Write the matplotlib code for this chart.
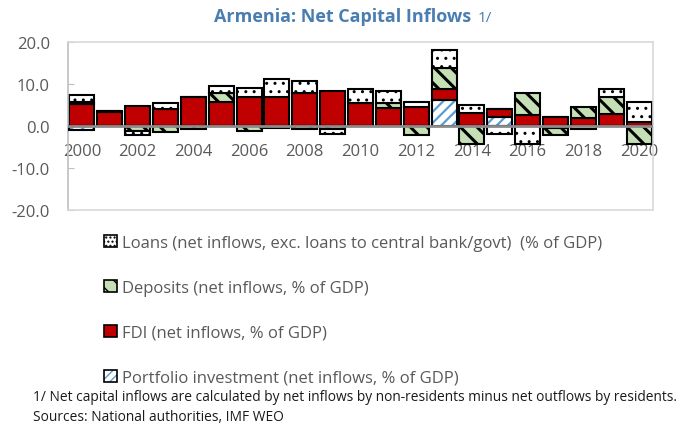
import matplotlib
matplotlib.use("Agg")
import matplotlib.pyplot as plt
from matplotlib.patches import Patch
from matplotlib.legend_handler import HandlerTuple
import numpy as np

years = list(range(2000, 2021))
xtick_labels = [str(y) for y in range(2000, 2021, 2)]

portfolio = [-1.0, 0, 0, 0, 0, 0, 0, 0, 0, 0, 0, 0, 0, 6.1, 0, 2.1, 0, -0.4, 0, 0, 0]
fdi = [5.3, 3.3, 4.8, 4.1, 6.9, 5.8, 7.0, 7.0, 7.8, 8.3, 5.5, 4.2, 4.5, 2.8, 3.2, 1.9, 2.7, 2.1, 1.8, 2.9, 1.0]
deposits = [0.5, 0.3, -1.2, -1.4, -0.6, 2.1, -1.3, -0.4, -0.8, -0.6, 0, 1.3, -2.2, 5.0, -4.2, 0, 5.1, -1.8, 2.7, 4.1, -4.4]
loans = [1.6, 0, -1.0, 1.4, 0, 1.6, 2.0, 4.1, 2.8, -1.3, 3.3, 2.8, 1.3, 4.1, 1.8, -2.0, -4.4, 0, -0.8, 1.8, 4.7]

labels = {
    "loans": "Loans (net inflows, exc. loans to central bank/govt)  (% of GDP)",
    "deposits": "Deposits (net inflows, % of GDP)",
    "fdi": "FDI (net inflows, % of GDP)",
    "portfolio": "Portfolio investment (net inflows, % of GDP)",
}

FONT = ["Open Sans", "DejaVu Sans"]
plt.rcParams["font.family"] = FONT
GREY = "#595959"
RED = "#C00000"
GREEN = "#C5E0B4"
BLUE = "#5B9BD5"

W, H = 677, 427
fig = plt.figure(figsize=(W / 100, H / 100), dpi=100)
ax = fig.add_axes([68 / W, 1 - 211 / H, (653 - 68) / W, (211 - 43) / H])

x = np.arange(len(years))
width = 0.9
pos_bottom = np.zeros(len(years))
neg_bottom = np.zeros(len(years))

styles = [
    ("portfolio", portfolio),
    ("fdi", fdi),
    ("deposits", deposits),
    ("loans", loans),
]

for name, vals in styles:
    v = np.array(vals, dtype=float)
    bottom = np.where(v >= 0, pos_bottom, neg_bottom)
    if name == "portfolio":
        with plt.rc_context({"hatch.linewidth": 1.6}):
            ax.bar(x, v, width, bottom=bottom, facecolor="white", edgecolor=BLUE,
                   hatch="///", linewidth=0, zorder=2)
        ax.bar(x, v, width, bottom=bottom, facecolor="none", edgecolor="black",
               linewidth=1.5, zorder=3)
    elif name == "fdi":
        ax.bar(x, v, width, bottom=bottom, facecolor=RED, edgecolor="black",
               linewidth=1.5, zorder=2)
    elif name == "deposits":
        with plt.rc_context({"hatch.linewidth": 2.2}):
            ax.bar(x, v, width, bottom=bottom, facecolor=GREEN, edgecolor="black",
                   hatch="\\\\", linewidth=1.5, zorder=2)
    else:
        with plt.rc_context({"hatch.linewidth": 1.0}):
            ax.bar(x, v, width, bottom=bottom, facecolor="white", edgecolor="black",
                   hatch="..", linewidth=1.5, zorder=2)
    pos_bottom = pos_bottom + np.where(v > 0, v, 0)
    neg_bottom = neg_bottom + np.where(v < 0, v, 0)

ax.axhline(0, color="#8c8c8c", linewidth=2, zorder=4)

ax.set_xlim(-0.5, len(years) - 0.5)
ax.set_ylim(-20, 20)
ax.set_yticks([20, 10, 0, -10, -20])
ax.set_yticklabels([f"{t:.1f}" for t in [20, 10, 0, -10, -20]])
ax.tick_params(axis="y", direction="in", length=4, color="#bfbfbf", pad=13,
               labelsize=12, labelcolor=GREY)
ax.set_xticks([])
for s in ax.spines.values():
    s.set_color("#d9d9d9")
    s.set_linewidth(1.2)
ax.spines["left"].set_color("#bfbfbf")

sec = ax.secondary_xaxis(0.5)
sec.xaxis.set_ticks_position("bottom")
sec.set_xticks(x[::2])
sec.set_xticklabels(xtick_labels)
sec.tick_params(axis="x", which="both", bottom=True, top=False, labelbottom=True,
                labeltop=False, length=0, pad=12, labelsize=12, labelcolor=GREY)
for s in sec.spines.values():
    s.set_visible(False)

# title
fig.text(342.5 / W, 1 - 17 / H, "Armenia: Net Capital Inflows", ha="center", va="center",
         fontsize=13, fontweight="bold", color="#4A7DB0")
fig.text(478 / W, 1 - 18 / H, "1/", ha="left", va="center", fontsize=11, color="#4A7DB0")

# legend
h_loans = Patch(facecolor="white", edgecolor="black", hatch="....", linewidth=1.2)
h_dep = Patch(facecolor=GREEN, edgecolor="black", hatch="\\\\", linewidth=1.2)
h_fdi = Patch(facecolor=RED, edgecolor="black", linewidth=1.2)
h_port = (Patch(facecolor="white", edgecolor=BLUE, hatch="////", linewidth=0),
          Patch(facecolor="none", edgecolor="black", linewidth=1.2))
leg = fig.legend([h_loans, h_dep, h_fdi, h_port],
                 [labels["loans"], labels["deposits"], labels["fdi"], labels["portfolio"]],
                 loc="upper left", bbox_to_anchor=(104 / W, 1 - 236 / H),
                 frameon=False, fontsize=12, labelcolor=GREY,
                 handlelength=0.75, handleheight=0.75, handletextpad=0.35,
                 labelspacing=1.73, borderaxespad=0, borderpad=0,
                 handler_map={tuple: HandlerTuple(ndivide=1)})

foot1 = fig.text(33 / W, 1 - 398 / H,
                 "1/ Net capital inflows are calculated by net inflows by non-residents minus net outflows by residents.",
                 ha="left", va="center", fontsize=10, color="#1a1a1a")
foot2 = fig.text(33 / W, 1 - 418 / H, "Sources: National authorities, IMF WEO",
                 ha="left", va="center", fontsize=10, color="#1a1a1a")

# fit footnote width to the reference span (642 px)
renderer = fig.canvas.get_renderer()
w1 = foot1.get_window_extent(renderer).width
scale = 642.0 / w1
foot1.set_fontsize(10 * scale)
foot2.set_fontsize(10 * scale)

fig.savefig("out.png", dpi=100)
